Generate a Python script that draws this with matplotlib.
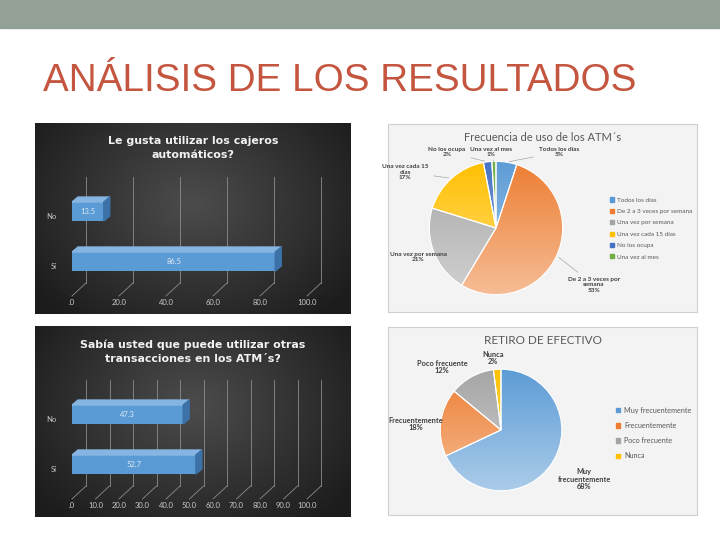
import numpy as np
import matplotlib
matplotlib.use("Agg")
import matplotlib.pyplot as plt
from matplotlib.colors import LinearSegmentedColormap, to_rgb
from matplotlib.patches import Rectangle, Polygon
from matplotlib.transforms import ScaledTranslation

W, H = 720, 540

# ---- values ----
gusta_cats = ["Sí", "No"]
gusta_vals = [86.5, 13.5]
gusta_ticks = [0, 20, 40, 60, 80, 100]

otras_cats = ["Sí", "No"]
otras_vals = [52.7, 47.3]
otras_ticks = [0, 10, 20, 30, 40, 50, 60, 70, 80, 90, 100]

freq_names = ["Todos los días", "De 2 a 3 veces por semana", "Una vez por semana",
              "Una vez cada 15 días", "No los ocupa", "Una vez al mes"]
freq_vals = [5, 53, 21, 17, 2, 1]
freq_lab = ["Todos los días", "De 2 a 3 veces por\nsemana", "Una vez por semana",
            "Una vez cada 15\ndías", "No los ocupa", "Una vez al mes"]

retiro_names = ["Muy frecuentemente", "Frecuentemente", "Poco frecuente", "Nunca"]
retiro_vals = [68, 18, 12, 2]
retiro_lab = ["Muy\nfrecuentemente", "Frecuentemente", "Poco frecuente", "Nunca"]

office = ["#5B9BD5", "#ED7D31", "#A5A5A5", "#FFC000", "#4472C4", "#70AD47"]

plt.rcParams["font.family"] = ["Lato", "DejaVu Sans"]

fig = plt.figure(figsize=(7.2, 5.4), dpi=100)


def px_axes(x0, y0, x1, y1):
    return fig.add_axes([x0 / W, 1 - y1 / H, (x1 - x0) / W, (y1 - y0) / H])


def fxy(x, y):
    return (x / W, 1 - y / H)


# header band and slide title
fig.patches.append(Rectangle((0, 1 - 28 / H), 1, 28 / H, transform=fig.transFigure,
                             color="#93A096", zorder=0))
fig.text(*fxy(43, 81), "ANÁLISIS DE LOS RESULTADOS", fontsize=27.8, color="#C4553E",
         family=["Liberation Sans", "DejaVu Sans"], va="center", ha="left")

dark = LinearSegmentedColormap.from_list("dark", ["#1c1c1c", "#4c4c4c"])


def bar_panel(top, title, cats, vals, ticks):
    bg = px_axes(35, top, 351, top + 191)
    yy, xx = np.mgrid[0:1:120j, 0:1:200j]
    r = np.sqrt(((xx - 0.5) / 0.62) ** 2 + ((yy - 0.42) / 0.8) ** 2)
    bg.imshow(1 - np.clip(r, 0, 1), cmap=dark, extent=(0, 1, 0, 1), aspect="auto")
    bg.set_axis_off()
    fig.text(*fxy(193, top + 25.5), title, ha="center", va="center", color="#f2f2f2",
             fontsize=7.9, fontweight="bold", linespacing=1.5,
             family=["DejaVu Sans"])

    ax = px_axes(72, top + 52, 307, top + 173)
    ax.patch.set_alpha(0)
    ylo, yhi = -0.69, 1.731
    ax.set_xlim(0, 100)
    ax.set_ylim(ylo, yhi)
    sx = 235 / 100.0
    sy = 121 / (yhi - ylo)
    # back wall / floor grid
    gdx, gdy = 14 / sx, 13 / sy
    for t in ticks:
        ax.plot([t, t + gdx], [ylo, ylo + gdy], color="#8c8c8c", lw=0.6, clip_on=False)
        ax.plot([t + gdx, t + gdx], [ylo + gdy, ylo + 119 / sy], color="#8c8c8c", lw=0.6,
                clip_on=False)
    # bars with a small 3D depth
    pos = np.arange(len(cats))
    h = 19 / sy
    bdx, bdy = 6 / sx, 5 / sy
    ax.barh(pos, vals, height=h, color="#5B9BD5", zorder=3)
    for y, v in zip(pos, vals):
        ax.add_patch(Polygon([(0, y + h / 2), (v, y + h / 2), (v + bdx, y + h / 2 + bdy),
                              (bdx, y + h / 2 + bdy)], closed=True, color="#86B5E2", zorder=3))
        ax.add_patch(Polygon([(v, y - h / 2), (v, y + h / 2), (v + bdx, y + h / 2 + bdy),
                              (v + bdx, y - h / 2 + bdy)], closed=True, color="#3C72A8",
                             zorder=3, clip_on=False))
        ax.text(v / 2, y, f"{v:.1f}", ha="center", va="center", color="#dce9f6",
                fontsize=5.5, zorder=4)
    ax.set_xticks(ticks)
    ax.set_xticklabels([".0" if t == 0 else f"{t:.1f}" for t in ticks])
    ax.set_yticks(pos)
    ax.set_yticklabels(cats)
    ax.tick_params(length=0, colors="#c8c8c8", labelsize=5.5)
    ax.tick_params(axis="x", pad=2.5)
    ax.tick_params(axis="y", pad=11)
    shift = ScaledTranslation(0, -0.04, fig.dpi_scale_trans)
    for lab in ax.get_yticklabels():
        lab.set_transform(lab.get_transform() + shift)
    for s in ax.spines.values():
        s.set_visible(False)


def pie_panel(top, title, title_fs, names, vals, labs, lab_pos, box, fs_lab,
              leg_xy, fs_leg, leg_space, leaders):
    bg = px_axes(388, top + 1, 697, top + 189)
    bg.set_facecolor("#f3f3f3")
    bg.set_xticks([])
    bg.set_yticks([])
    for s in bg.spines.values():
        s.set_color("#d0d0d0")
        s.set_linewidth(0.8)
    fig.text(*fxy(543, top + 14), title, ha="center", va="center", color="#595959",
             fontsize=title_fs)

    ax = px_axes(*box)
    cols = office[:len(vals)]
    wedges, _ = ax.pie(vals, colors=cols, startangle=90, counterclock=False,
                       wedgeprops=dict(edgecolor="white", linewidth=0.8))
    for w, c in zip(wedges, cols):
        base = np.array(to_rgb(c))
        light = base + (1 - base) * 0.5
        t = np.linspace(0, 1, 80)[:, None, None]
        img = np.repeat(base * (1 - t) + light * t, 2, axis=1)
        im = ax.imshow(img, extent=(-1.05, 1.05, -1.05, 1.05), origin="upper",
                       aspect="auto", zorder=w.get_zorder() - 0.5)
        im.set_clip_path(w)
        w.set_facecolor("none")
    ax.set_xlim(-1.02, 1.02)
    ax.set_ylim(-1.02, 1.02)
    ax.set_aspect("equal")
    ax.set_axis_off()

    for i, (w, v, lab) in enumerate(zip(wedges, vals, labs)):
        txt = f"{lab}\n{v}%"
        mid = np.deg2rad((w.theta1 + w.theta2) / 2)
        arrow = dict(arrowstyle="-", color="#a6a6a6", lw=0.5) if leaders[i] else None
        ax.annotate(txt, xy=(np.cos(mid), np.sin(mid)), xycoords="data",
                    xytext=fxy(*lab_pos[i]), textcoords="figure fraction",
                    ha="center", va="center", fontsize=fs_lab, color="#404040",
                    fontweight="bold", linespacing=1.15, arrowprops=arrow)

    handles = [Rectangle((0, 0), 1, 1, color=c) for c in cols]
    ax.legend(handles, names, loc="center left", bbox_to_anchor=fxy(*leg_xy),
              bbox_transform=fig.transFigure, frameon=False, fontsize=fs_leg,
              handlelength=0.6, handleheight=0.6, handletextpad=0.5,
              labelspacing=leg_space, borderpad=0, borderaxespad=0, labelcolor="#595959")


bar_panel(123, "Le gusta utilizar los cajeros\nautomáticos?", gusta_cats, gusta_vals, gusta_ticks)
bar_panel(326, "Sabía usted que puede utilizar otras\ntransacciones en los ATM´s?",
          otras_cats, otras_vals, otras_ticks)

pie_panel(123, "Frecuencia de uso de los ATM´s", 8, freq_names, freq_vals, freq_lab,
          [(559, 152), (594, 285), (418, 257), (405, 172), (447, 152), (491, 152)],
          (428, 160, 564, 296), 4.6, (610, 228.5), 4.6, 0.95,
          [True, True, False, True, True, True])

pie_panel(326, "RETIRO DE EFECTIVO", 8.5, retiro_names, retiro_vals, retiro_lab,
          [(584, 479), (416, 424), (442, 367), (493, 358)],
          (439, 368, 563, 492), 5.3, (616, 433), 5.2, 1.15,
          [False, False, False, False])

fig.savefig("out.png", dpi=100)
